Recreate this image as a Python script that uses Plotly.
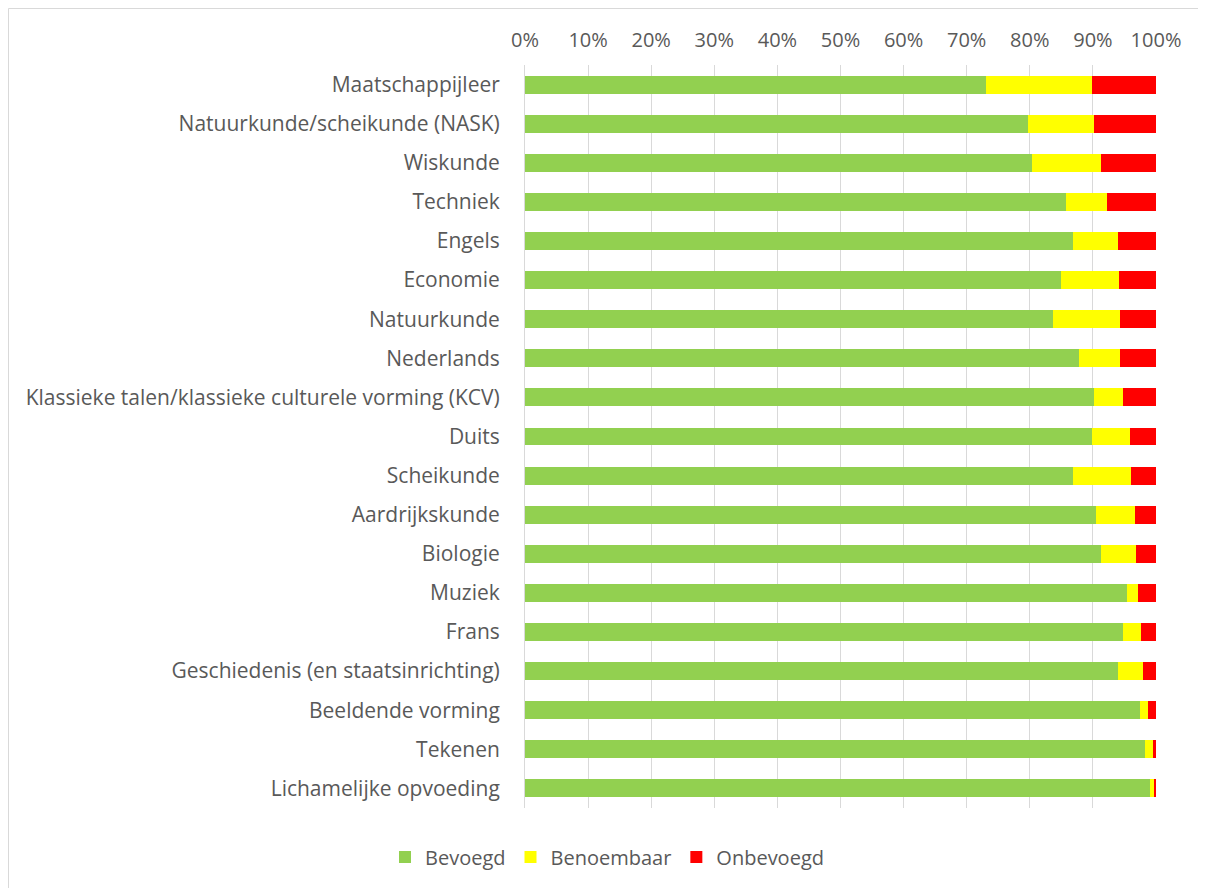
import plotly.graph_objects as go

categories = [
    "Maatschappijleer",
    "Natuurkunde/scheikunde (NASK)",
    "Wiskunde",
    "Techniek",
    "Engels",
    "Economie",
    "Natuurkunde",
    "Nederlands",
    "Klassieke talen/klassieke culturele vorming (KCV)",
    "Duits",
    "Scheikunde",
    "Aardrijkskunde",
    "Biologie",
    "Muziek",
    "Frans",
    "Geschiedenis (en staatsinrichting)",
    "Beeldende vorming",
    "Tekenen",
    "Lichamelijke opvoeding",
]
bevoegd = [73.0, 79.7, 80.3, 85.8, 86.8, 85.0, 83.6, 87.8, 90.1, 89.9, 86.8, 90.5, 91.3, 95.4, 94.8, 93.9, 97.4, 98.2, 99.0]
benoembaar = [16.9, 10.4, 11.0, 6.5, 7.1, 9.1, 10.7, 6.5, 4.7, 5.9, 9.2, 6.1, 5.5, 1.8, 2.8, 4.1, 1.4, 1.4, 0.8]
onbevoegd = [10.1, 9.9, 8.7, 7.7, 6.1, 5.9, 5.7, 5.7, 5.2, 4.2, 4.0, 3.4, 3.2, 2.8, 2.4, 2.0, 1.2, 0.4, 0.2]

series = [
    ("Bevoegd", bevoegd, "#92D050"),
    ("Benoembaar", benoembaar, "#FFFF00"),
    ("Onbevoegd", onbevoegd, "#FF0000"),
]

fig = go.Figure()
for name, vals, color in series:
    fig.add_trace(go.Bar(
        y=categories, x=vals, name=name, orientation="h",
        marker=dict(color=color, line=dict(width=0)),
    ))

# page has an 8px body margin; figure sized to fill the rest of the window
W, H = 1198, 880
L, R, T, B = 517, 50, 57, 80
PW, PH = W - L - R, H - T - B

font_family = "Open Sans, Liberation Sans, sans-serif"
txt_color = "#595959"
fig.update_layout(
    barmode="stack",
    bargap=0.54,
    width=W, height=H,
    margin=dict(l=L, r=R, t=T, b=B, autoexpand=False),
    paper_bgcolor="white",
    plot_bgcolor="white",
    font=dict(family=font_family, size=21, color=txt_color),
    xaxis=dict(
        side="top", range=[0, 100], dtick=10, ticksuffix="%",
        showgrid=True, gridcolor="#d9d9d9", gridwidth=1,
        zeroline=False, showline=False, ticks="",
        tickfont=dict(size=20, color=txt_color),
        ticklabelstandoff=13,
        automargin=False,
    ),
    yaxis=dict(
        categoryorder="array", categoryarray=categories,
        autorange="reversed", showgrid=False,
        showline=True, linecolor="#d9d9d9", linewidth=1,
        ticks="", ticklen=0,
        tickfont=dict(size=21, color=txt_color),
        ticklabelstandoff=20,
        automargin=False,
    ),
    legend=dict(
        orientation="h", x=0.5, xref="container", xanchor="center",
        y=(H - 849) / H, yref="container", yanchor="middle",
        font=dict(size=20, color=txt_color),
        bgcolor="rgba(0,0,0,0)",
        itemwidth=30, traceorder="normal",
    ),
    shapes=[dict(
        type="rect", xref="paper", yref="paper",
        x0=(0.5 - L) / PW, x1=(1192 - L) / PW,
        y0=(H - B - 900) / PH, y1=(H - B - 0.5) / PH,
        line=dict(color="#d9d9d9", width=1), fillcolor="rgba(0,0,0,0)",
        layer="below",
    )],
)
fig.write_html("out.html")
